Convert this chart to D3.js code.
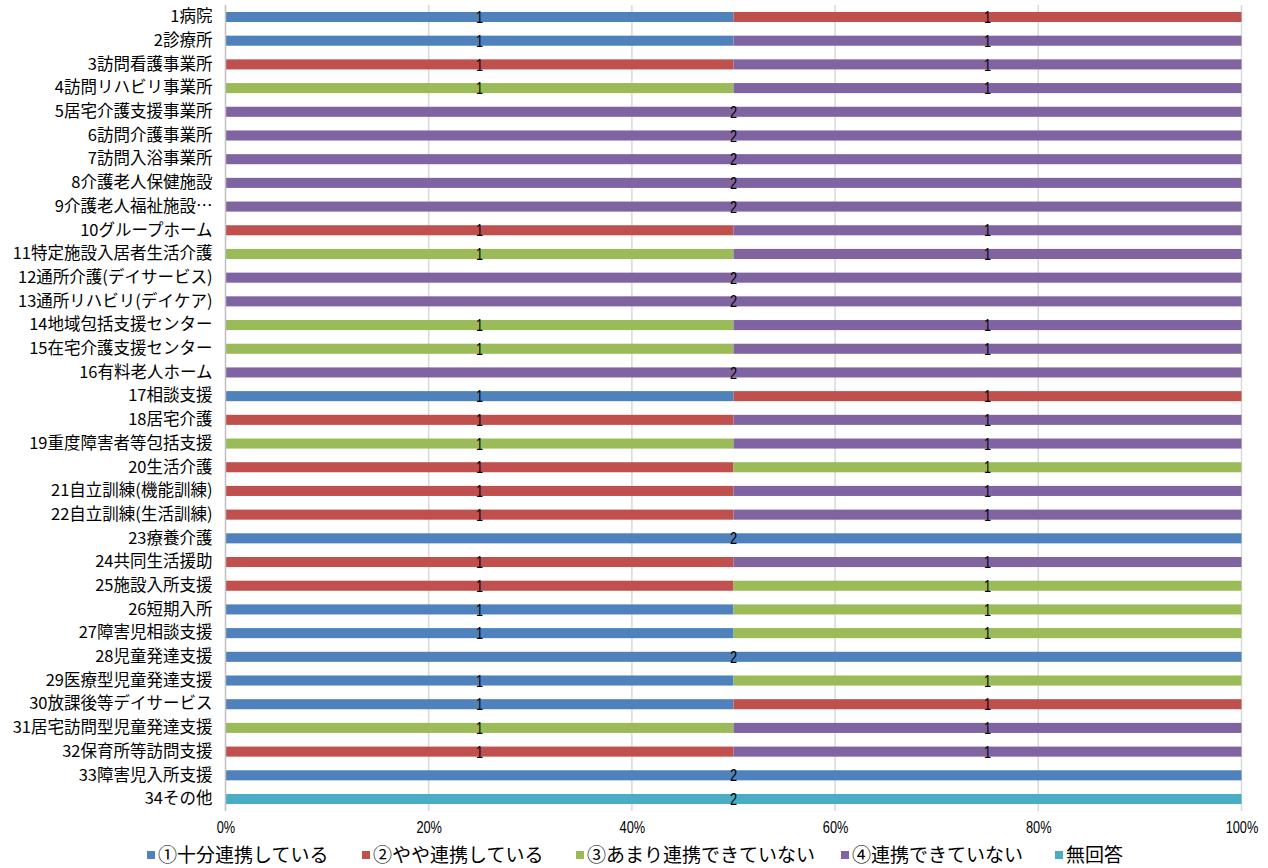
<!DOCTYPE html>
<html><head><meta charset="utf-8">
<script src="https://cdn.jsdelivr.net/npm/d3@7"></script>
<style>
body{margin:0;background:#fff;}
svg{display:block;}
</style></head>
<body><svg id="chart" width="1268" height="868"></svg>
<script>
const categories = ["1病院","2診療所","3訪問看護事業所","4訪問リハビリ事業所","5居宅介護支援事業所","6訪問介護事業所","7訪問入浴事業所","8介護老人保健施設","9介護老人福祉施設…","10グループホーム","11特定施設入居者生活介護","12通所介護(デイサービス)","13通所リハビリ(デイケア)","14地域包括支援センター","15在宅介護支援センター","16有料老人ホーム","17相談支援","18居宅介護","19重度障害者等包括支援","20生活介護","21自立訓練(機能訓練)","22自立訓練(生活訓練)","23療養介護","24共同生活援助","25施設入所支援","26短期入所","27障害児相談支援","28児童発達支援","29医療型児童発達支援","30放課後等デイサービス","31居宅訪問型児童発達支援","32保育所等訪問支援","33障害児入所支援","34その他"];
const seriesNames = ["①十分連携している","②やや連携している","③あまり連携できていない","④連携できていない","無回答"];
const s1 = [1,1,0,0,0,0,0,0,0,0,0,0,0,0,0,0,1,0,0,0,0,0,2,0,0,1,1,2,1,1,0,0,2,0];
const s2 = [1,0,1,0,0,0,0,0,0,1,0,0,0,0,0,0,1,1,0,1,1,1,0,1,1,0,0,0,0,1,0,1,0,0];
const s3 = [0,0,0,1,0,0,0,0,0,0,1,0,0,1,1,0,0,0,1,1,0,0,0,0,1,1,1,0,1,0,1,0,0,0];
const s4 = [0,1,1,1,2,2,2,2,2,1,1,2,2,1,1,2,0,1,1,0,1,1,0,1,0,0,0,0,0,0,1,1,0,0];
const s5 = [0,0,0,0,0,0,0,0,0,0,0,0,0,0,0,0,0,0,0,0,0,0,0,0,0,0,0,0,0,0,0,0,0,2];
const colors = ["#4F81BD","#C0504D","#9BBB59","#8064A2","#4BACC6"];
const tickValues = [0,0.2,0.4,0.6,0.8,1];

const svg = d3.select("#chart");
const jp = "'Noto Sans CJK JP','Noto Sans',sans-serif";
const lat = "'Liberation Sans',Arial,sans-serif";

const rows = categories.map((c,i)=>({cat:c, v:[s1[i],s2[i],s3[i],s4[i],s5[i]]}));
const keys = [0,1,2,3,4];
const stack = d3.stack().keys(keys).value((d,k)=>d.v[k]).offset(d3.stackOffsetExpand);
const stacked = stack(rows);

const x = d3.scaleLinear().domain([0,1]).range([225.5,1241.5]);
const y = d3.scaleBand().domain(categories).range([5.15,810.85]).paddingInner(0.575).paddingOuter(0.2875);

// gridlines
svg.append("g").selectAll("line").data(tickValues.slice(1)).join("line")
  .attr("x1",d=>x(d)).attr("x2",d=>x(d)).attr("y1",5).attr("y2",811)
  .attr("stroke","#d9d9d9").attr("stroke-width",1.5);

// bars
const g = svg.append("g");
stacked.forEach((layer,k)=>{
  g.append("g").selectAll("rect").data(layer).join("rect")
    .attr("x",d=>x(d[0])).attr("width",d=>Math.max(0,x(d[1])-x(d[0])))
    .attr("y",(d,i)=>y(categories[i])).attr("height",y.bandwidth())
    .attr("fill",colors[k]);
});
// data labels
stacked.forEach((layer,k)=>{
  g.append("g").selectAll("text").data(layer.map((d,i)=>({d,i})).filter(o=>rows[o.i].v[k]>0)).join("text")
    .attr("transform",o=>`translate(${(x(o.d[0])+x(o.d[1]))/2},${y(categories[o.i])+y.bandwidth()/2}) scale(0.75,1)`)
    .attr("dy","0.36em").attr("text-anchor","middle")
    .attr("font-family",lat).attr("font-size",17)
    .attr("fill","#000")
    .text(o=>rows[o.i].v[k]);
});

// axis line at 0
svg.append("line").attr("x1",x(0)).attr("x2",x(0)).attr("y1",5).attr("y2",811)
  .attr("stroke","#bfbfbf").attr("stroke-width",1.5);

// category labels
const yAxis = d3.axisLeft(y).tickSize(0).tickPadding(13);
const ya = svg.append("g").attr("transform",`translate(${x(0)},0)`).call(yAxis);
ya.select(".domain").remove();
ya.selectAll("text").attr("font-family",jp).attr("font-size",16.5).attr("fill","#000");

// x tick labels
const xAxis = d3.axisBottom(x).tickValues(tickValues).tickFormat(d3.format(".0%")).tickSize(0).tickPadding(0);
const xa = svg.append("g").attr("transform","translate(0,822)").call(xAxis);
xa.select(".domain").remove();
xa.selectAll("text").attr("font-family",lat).attr("font-size",16).attr("fill","#000")
  .attr("transform","scale(0.8,1)");

// legend
const legX = [147,362,576,841,1055];
const leg = svg.append("g");
seriesNames.forEach((n,k)=>{
  leg.append("rect").attr("x",legX[k]).attr("y",851).attr("width",8).attr("height",8).attr("fill",colors[k]);
  leg.append("text").attr("x",legX[k]+11).attr("y",855).attr("dy","0.36em")
    .attr("font-family",jp).attr("font-size",19).attr("fill","#000").text(n);
});
</script></body></html>
